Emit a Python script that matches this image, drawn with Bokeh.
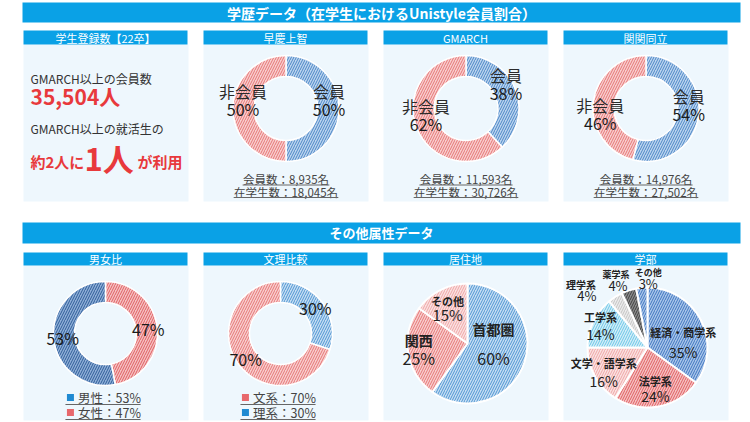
import numpy as np
from bokeh.plotting import figure
from bokeh.models import Range1d
from bokeh.core.properties import value
from bokeh.embed import file_html
from bokeh.resources import INLINE

FONT = "Noto Sans CJK JP"

# ---------------- data ----------------
main_title = "学歴データ（在学生におけるUnistyle会員割合）"
sub_title = "その他属性データ"
panel_titles_top = ["学生登録数【22卒】", "早慶上智", "GMARCH", "関関同立"]
panel_titles_bottom = ["男女比", "文理比較", "居住地", "学部"]

total_members = "35,504"
school_member_pct = [50, 38, 54]
school_nonmember_pct = [50, 62, 46]
school_member_counts = ["8,935", "11,593", "14,976"]
school_student_counts = ["18,045", "30,726", "27,502"]
member_labels = ["会員", "非会員"]

gender_labels = ["男性", "女性"]
gender_pct = [53, 47]
field_labels = ["文系", "理系"]
field_pct = [70, 30]
region_labels = ["首都圏", "関西", "その他"]
region_pct = [60, 25, 15]
faculty_labels = ["経済・商学系", "法学系", "文学・語学系", "工学系", "理学系", "薬学系", "その他"]
faculty_pct = [35, 24, 16, 14, 4, 4, 3]

# ---------------- styles / layout ----------------
BAR = "#0aa1e6"
PANEL_BG = "#eef7fd"
RED = "#e8393c"
TXT = "#1e1e1e"

BLUE = dict(fill_color="#bcd5ef", hatch_color="#4c86c6")
PINK = dict(fill_color="#f8cfcf", hatch_color="#e67676")
DBLUE = dict(fill_color="#8fb0d8", hatch_color="#2f5c98")
RPINK = dict(fill_color="#f5c2c2", hatch_color="#e05e62")
LBLUE = dict(fill_color="#c6def3", hatch_color="#4f95d2")
LPINK = dict(fill_color="#fbe2e2", hatch_color="#eea6a6")
CYAN = dict(fill_color="#d3eef9", hatch_color="#6cc6e6")
LGREY = dict(fill_color="#ececec", hatch_color="#c4c4c4")
DGREY = dict(fill_color="#8c8c8c", hatch_color="#404040")
PBLUE = dict(fill_color="#a9c6ea", hatch_color="#3f74bf")

W, H = 750, 422
p = figure(width=W, height=H, x_range=Range1d(0, W), y_range=Range1d(0, H),
           output_backend="svg", toolbar_location=None, min_border=0,
           outline_line_color=None, background_fill_color="white",
           border_fill_color="white")
p.axis.visible = False
p.grid.visible = False


def Y(y):
    return H - y


def txt(x, y, s, size, color=TXT, bold=False, align="center", baseline="middle"):
    p.text(x=[x], y=[Y(y)], text=[s], text_font=value(FONT), text_font_size=f"{size}px",
           text_color=color, text_align=align, text_baseline=baseline,
           text_font_style="bold" if bold else "normal")


def est_width(s, size):
    w = 0
    for ch in s:
        if ch in ",.":
            w += 0.3 * size
        elif ch.isdigit():
            w += 0.56 * size
        elif ch == "%":
            w += 0.85 * size
        elif ord(ch) < 128:
            w += 0.6 * size
        else:
            w += size
    return w


def underlined(x, y, s, size, color="#444444", extra_left=0, ul=6):
    txt(x, y, s, size, color)
    w = est_width(s, size)
    p.segment(x0=[x - w / 2 - extra_left], x1=[x + w / 2], y0=[Y(y + ul)],
              y1=[Y(y + ul)], line_color="#666666", line_width=1)


def bar(l, r, t, b, color):
    p.quad(left=[l], right=[r], top=[Y(t)], bottom=[Y(b)], fill_color=color, line_color=None)


def ring(cx, cy, vals, styles, r_out, r_in=0.0, gap=1.5):
    fr = np.array(vals, dtype=float) / sum(vals)
    cum = np.concatenate([[0.0], np.cumsum(fr)])
    starts = np.pi / 2 - cum[:-1] * 2 * np.pi
    ends = np.pi / 2 - cum[1:] * 2 * np.pi
    for s, e, st in zip(starts, ends, styles):
        p.annular_wedge(x=[cx], y=[Y(cy)], inner_radius=r_in, outer_radius=r_out,
                        start_angle=s, end_angle=e, direction="clock",
                        inner_radius_units="screen", outer_radius_units="screen",
                        hatch_pattern="/", hatch_scale=5, hatch_weight=1,
                        line_color="white", line_width=gap, **st)
    mids = (cum[:-1] + cum[1:]) / 2 * 2 * np.pi  # clockwise from top
    return mids


def label_pos(cx, cy, mid, r, shift_deg=0.0):
    a = mid + np.deg2rad(shift_deg)
    return cx + r * np.sin(a), cy - r * np.cos(a)


# ---------------- header bars ----------------
bar(22, 740, 2, 22, BAR)
txt(381, 12, main_title, 14, "white", bold=True)
bar(22, 740, 222, 243, BAR)
txt(381, 232, sub_title, 13, "white", bold=True)

top_x = [(23, 187), (203, 367), (383, 547), (563, 727)]
for (l, r), t in zip(top_x, panel_titles_top):
    bar(l, r + 1, 44, 201, PANEL_BG)
    bar(l, r, 30, 44, BAR)
    txt((l + r) / 2, 37, t, 11, "white")

for (l, r), t in zip(top_x, panel_titles_bottom):
    bar(l, r + 1, 265, 420, PANEL_BG)
    bar(l, r, 252, 265, BAR)
    txt((l + r) / 2, 258.5, t, 11, "white")

# ---------------- panel 1 (text) ----------------
txt(30, 78, "GMARCH以上の会員数", 12, "#333333", align="left")
txt(30, 95, f"{total_members}人", 21, RED, bold=True, align="left")
txt(30, 128, "GMARCH以上の就活生の", 12, "#333333", align="left")
txt(30, 161, "約2人に", 15, RED, bold=True, align="left")
txt(84, 157, "1人", 31, RED, bold=True, align="left")
txt(137, 161, "が利用", 15, RED, bold=True, align="left")

# ---------------- school donuts ----------------
R_OUT, R_IN = 53, 32
school_label_shift = [[0, 0], [0, 0], [0, -25]]
school_label_r = [[43, 43], [43, 43], [43, 48]]
for i, (l, r) in enumerate(top_x[1:]):
    cx, cy = (l + r) / 2 + 0.5, 108
    vals = [school_member_pct[i], school_nonmember_pct[i]]
    mids = ring(cx, cy, vals, [BLUE, PINK], R_OUT, R_IN)
    for lab, v, m, sh, rr in zip(member_labels, vals, mids, school_label_shift[i], school_label_r[i]):
        x, y = label_pos(cx, cy, m, rr, sh)
        txt(x, y - 18, lab, 16, "#2a2a2a")
        txt(x, y, f"{v}%", 16, "#1a1a1a")
    underlined(cx, 178.5, f"会員数：{school_member_counts[i]}名", 11.5)
    underlined(cx, 191, f"在学生数：{school_student_counts[i]}名", 11.5)

# ---------------- gender / field donuts ----------------
for (l, r), labels, vals, styles, sq, cx in [
    (top_x[0], gender_labels, gender_pct, [DBLUE, RPINK], ["#1f8ad2", "#e8686c"], 105),
    (top_x[1], field_labels, field_pct, [PINK, LBLUE], ["#e8686c", "#1f8ad2"], 280),
]:
    cy = 333
    # ring drawn starting with the last legend item, clockwise from top
    mids = ring(cx, cy, vals[::-1], styles[::-1], 52, 31)
    for v, m in zip(vals[::-1], mids):
        x, y = label_pos(cx, cy, m, 43)
        txt(x, y, f"{v}%", 16, "#1a1a1a")
    for k, (lab, v, c) in enumerate(zip(labels, vals, sq)):
        yy = 397 + 15 * k
        s = f"{lab}：{v}%"
        w = est_width(s, 12.5)
        x0 = cx + 4 - w / 2
        p.rect(x=[x0 - 8], y=[Y(yy)], width=7, height=7, width_units="screen",
               height_units="screen", fill_color=c, line_color=None)
        underlined(cx + 4, yy, s, 12.5, "#444444", extra_left=13, ul=7)

# ---------------- region pie ----------------
cx, cy = 467, 343
mids = ring(cx, cy, region_pct, [LBLUE, PINK, LPINK], 60, 0, gap=2)
region_label_r = [26, 49, 41]
region_label_shift = [-18, 3, -2]
region_name_size = [14, 14, 11]
region_pct_size = [16, 16, 15]
region_half_gap = [14.5, 9, 6.5]
for lab, v, m, rr, sh, fs, ps, hg in zip(region_labels, region_pct, mids, region_label_r,
                                         region_label_shift, region_name_size,
                                         region_pct_size, region_half_gap):
    x, y = label_pos(cx, cy, m, rr, sh)
    txt(x, y - hg, lab, fs, "#222222", bold=True)
    txt(x, y + hg, f"{v}%", ps, "#222222")

# ---------------- faculty pie ----------------
cx, cy = 647, 347
mids = ring(cx, cy, faculty_pct, [PBLUE, RPINK, LPINK, CYAN, LGREY, DGREY, PBLUE], 60, 0, gap=2)
fac_label_r = [36, 42, 50, 52, 83, 74, 70]
fac_label_shift = [19, 0, 0, 0, -14.5, -5.5, 6]
fac_name_size = [11, 11, 11, 11, 10, 9, 9]
fac_pct_size = [14, 14, 14, 14, 13, 13, 13]
fac_name_dy = [-10, -8, -9, -8.5, -6, -5.5, -5.5]
fac_pct_dy = [10, 7, 9, 8.5, 4.5, 5.5, 5.5]
fac_name_dx = [0, 0, 0, 0, -6, -2, 0]
for lab, v, m, rr, sh, fs, ps, nd, pd, nx in zip(faculty_labels, faculty_pct, mids, fac_label_r,
                                                 fac_label_shift, fac_name_size, fac_pct_size,
                                                 fac_name_dy, fac_pct_dy, fac_name_dx):
    x, y = label_pos(cx, cy, m, rr, sh)
    txt(x + nx, y + nd, lab, fs, "#222222", bold=True)
    txt(x, y + pd, f"{v}%", ps, "#222222")

open("out.html", "w").write(file_html(p, INLINE))
